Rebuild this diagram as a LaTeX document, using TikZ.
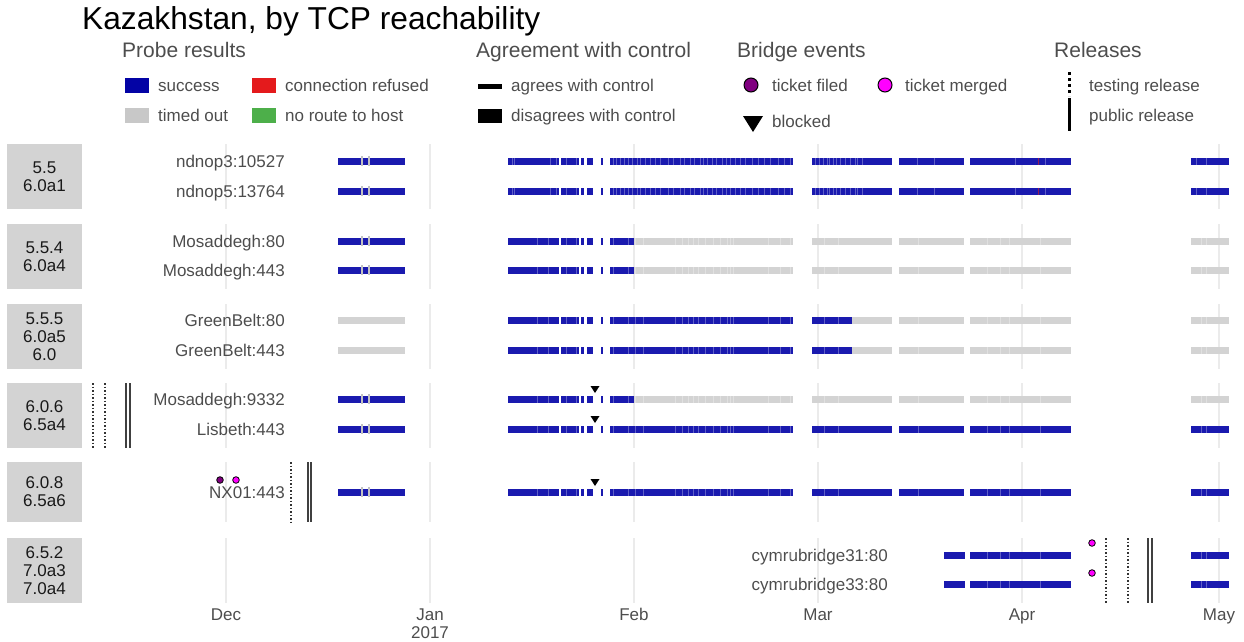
\documentclass[tikz,border=0pt]{standalone}
\usepackage{fontspec}
\setmainfont{Liberation Sans}
\definecolor{ok}{HTML}{1A1AAF}
\definecolor{okkey}{HTML}{0303A5}
\definecolor{tmo}{HTML}{D3D3D3}
\definecolor{refused}{HTML}{E41A1C}
\definecolor{noroute}{HTML}{4DAF4A}
\definecolor{filed}{HTML}{800080}
\definecolor{merged}{HTML}{FF00FF}
\definecolor{axis}{HTML}{4D4D4D}
\definecolor{grid}{HTML}{EBEBEB}
\definecolor{strip}{HTML}{D3D3D3}
\begin{document}
\begin{tikzpicture}[x=1pt,y=-1pt,
  every node/.style={inner sep=0pt},
  txt/.style={font=\fontsize{17}{18}\selectfont,text=axis},
  head/.style={font=\fontsize{21}{24}\selectfont,text=axis},
  verbox/.style={fill=strip,minimum width=75pt,align=center,font=\fontsize{17}{18}\selectfont,text=black!90},
  gridline/.style={draw=grid,line width=1.2pt},
  testing/.style={draw=black!80,line width=1.3pt,dash pattern=on 1.5pt off 2pt},
  public/.style={draw=black!75,line width=1.3pt},
  stripe/.style={draw=white,opacity=.3,line width=.8pt}]
\useasboundingbox (0,0) rectangle (1244,642);

% title and legend
\node[anchor=base west,font=\fontsize{31.7}{36}\selectfont] (title) at (82,30) {Kazakhstan, by TCP reachability};
\node[head,anchor=base west] (hprobe) at (122,57) {Probe results};
\node[head,anchor=base west] (hagree) at (476,57) {Agreement with control};
\node[head,anchor=base west] (hbridge) at (737,57) {Bridge events};
\node[head,anchor=base west] (hrel) at (1054,57) {Releases};

\fill[okkey] (125,78) rectangle (149,93);
\node[txt,anchor=base west] (lsuccess) at (158,91) {success};
\fill[refused] (252,78) rectangle (276,93);
\node[txt,anchor=base west] (lrefused) at (285,91) {connection refused};
\fill[tmo!95!black] (125,108) rectangle (149,123);
\node[txt,anchor=base west] (ltimed) at (158,121) {timed out};
\fill[noroute] (252,108) rectangle (276,123);
\node[txt,anchor=base west] (lnoroute) at (285,121) {no route to host};

\fill[black] (478,84) rectangle (502,88.5);
\node[txt,anchor=base west] (lagree) at (511,91) {agrees with control};
\fill[black] (478,109) rectangle (502,123);
\node[txt,anchor=base west] (ldisagree) at (511,121) {disagrees with control};

\filldraw[fill=filed,draw=black,line width=1pt] (751,85) circle[radius=7pt];
\node[txt,anchor=base west] (lfiled) at (772,91) {ticket filed};
\filldraw[fill=merged,draw=black,line width=1pt] (885,85) circle[radius=7pt];
\node[txt,anchor=base west] (lmerged) at (905,91) {ticket merged};
\fill[black] (743,116) -- (763,116) -- (753,132) -- cycle;
\node[txt,anchor=base west] (lblocked) at (772,127) {blocked};

\draw[black,line width=3pt,dash pattern=on 3pt off 3pt] (1069,72) -- (1069,96);
\node[txt,anchor=base west] (ltesting) at (1089,91) {testing release};
\draw[black,line width=3pt] (1069,98) -- (1069,131);
\node[txt,anchor=base west] (lpublic) at (1089,121) {public release};

% panels: grid lines and version boxes
\foreach \pt/\pb in {144/209,224/289,304/369,383/448,462/522,538/603}
  \foreach \gx in {226,430,634,818,1022,1219}
    \draw[gridline] (\gx,\pt) -- (\gx,\pb);
\node[verbox,minimum height=65pt] (v1) at (44.5,176.5) {5.5\\6.0a1};
\node[verbox,minimum height=65pt] (v2) at (44.5,256.5) {5.5.4\\6.0a4};
\node[verbox,minimum height=65pt] (v3) at (44.5,336.5) {5.5.5\\6.0a5\\6.0};
\node[verbox,minimum height=65pt] (v4) at (44.5,415.5) {6.0.6\\6.5a4};
\node[verbox,minimum height=60pt] (v5) at (44.5,492) {6.0.8\\6.5a6};
\node[verbox,minimum height=65pt] (v6) at (44.5,570.5) {6.5.2\\7.0a3\\7.0a4};

% bridge labels
\node[txt,anchor=base east] (b1) at (285,167) {ndnop3:10527};
\node[txt,anchor=base east] (b2) at (285,197) {ndnop5:13764};
\node[txt,anchor=base east] (b3) at (285,247) {Mosaddegh:80};
\node[txt,anchor=base east] (b4) at (285,276) {Mosaddegh:443};
\node[txt,anchor=base east] (b5) at (285,326) {GreenBelt:80};
\node[txt,anchor=base east] (b6) at (285,356) {GreenBelt:443};
\node[txt,anchor=base east] (b7) at (285,405) {Mosaddegh:9332};
\node[txt,anchor=base east] (b8) at (285,435) {Lisbeth:443};
\node[txt,anchor=base east] (b9) at (285,498) {NX01:443};
\node[txt,anchor=base east] (b10) at (888,561) {cymrubridge31:80};
\node[txt,anchor=base east] (b11) at (888,590) {cymrubridge33:80};

% probe results
\foreach \ry in {161,191,241,270,399,429,492}{
  \fill[ok] (338,\ry-3.5) rectangle (405,\ry+3.5);
  \foreach \tx in {362,369} \fill[tmo!92!black] (\tx-1,\ry-5) rectangle (\tx+1,\ry+5);
}
\foreach \ry in {320,350} \fill[tmo] (338,\ry-3.5) rectangle (405,\ry+3.5);
\foreach \ry in {161,191,241,270,320,350,399,429,492}
  \foreach \a/\b in {508/559,561/579,581/584,587/593,601/603,610/634}
    \fill[ok] (\a,\ry-3.5) rectangle (\b,\ry+3.5);
\foreach \ry in {161,191,320,350,429,492}
  \fill[ok] (634,\ry-3.5) rectangle (793,\ry+3.5);
\foreach \ry in {241,270,399}
  \foreach \a/\b in {634/793,812/892,899/964,970/1071,1191/1229}
    \fill[tmo] (\a,\ry-3.5) rectangle (\b,\ry+3.5);
\foreach \ry in {161,191,429,492}
  \foreach \a/\b in {812/892,899/964,970/1071,1191/1229}
    \fill[ok] (\a,\ry-3.5) rectangle (\b,\ry+3.5);
\foreach \ry in {320,350}{
  \fill[ok] (812,\ry-3.5) rectangle (852,\ry+3.5);
  \foreach \a/\b in {852/892,899/964,970/1071,1191/1229}
    \fill[tmo] (\a,\ry-3.5) rectangle (\b,\ry+3.5);
}
\foreach \ry in {555,584}
  \foreach \a/\b in {944/965,970/1071,1191/1229}
    \fill[ok] (\a,\ry-3.5) rectangle (\b,\ry+3.5);
\foreach \ry in {161,191}{
  \foreach \sx in {512,514,550,556,566,576,580,613,616,620,624,628,632,637,640,645,650,655,660,668,673,680,684,690,694,700,703,707,712,716,722,726,730,735,740,745,752,758,764,770,778,784,790,815,819,823,827,829,833,836,840,845,850,855,857,862,917,934,1015,1045,1196,1206}
    \draw[stripe] (\sx,\ry-3.5) -- (\sx,\ry+3.5);
  \draw[refused,opacity=.6,line width=.8pt] (1038,\ry-3.5) -- (1038,\ry+3.5);
}
\foreach \ry in {241,270,320,350,399,429,492,555,584}
  \foreach \sx in {537,548,566,576,580,613,628,635,643,675,682,688,693,698,705,713,720,727,730,733,768,780,790,824,838,918,987,1000,1009,1040,1201,1206}
    \draw[stripe] (\sx,\ry-3.5) -- (\sx,\ry+3.5);

% bridge events
\foreach \ry in {399,429,492}
  \fill[black] (590.5,\ry-13) -- (599.5,\ry-13) -- (595,\ry-6) -- cycle;
\filldraw[fill=filed,draw=black,line width=.8pt] (220,480) circle[radius=3.3pt];
\filldraw[fill=merged,draw=black,line width=.8pt] (236,480) circle[radius=3.3pt];
\filldraw[fill=merged,draw=black,line width=.8pt] (1092,543) circle[radius=3.3pt];
\filldraw[fill=merged,draw=black,line width=.8pt] (1092,573) circle[radius=3.3pt];

% releases
\foreach \rx in {93,105} \draw[testing] (\rx,383) -- (\rx,448);
\foreach \rx in {126,130} \draw[public] (\rx,383) -- (\rx,448);
\draw[testing] (291,462) -- (291,522);
\foreach \rx in {308,311} \draw[public] (\rx,462) -- (\rx,522);
\foreach \rx in {1106,1128} \draw[testing] (\rx,538) -- (\rx,603);
\foreach \rx in {1148,1152} \draw[public] (\rx,538) -- (\rx,603);

% time axis
\node[txt,anchor=base] (tdec) at (226,620) {Dec};
\node[txt,anchor=base] (tjan) at (430,620) {Jan};
\node[txt,anchor=base] (tyear) at (430,638) {2017};
\node[txt,anchor=base] (tfeb) at (634,620) {Feb};
\node[txt,anchor=base] (tmar) at (818,620) {Mar};
\node[txt,anchor=base] (tapr) at (1022,620) {Apr};
\node[txt,anchor=base] (tmay) at (1219,620) {May};
\end{tikzpicture}
\end{document}
